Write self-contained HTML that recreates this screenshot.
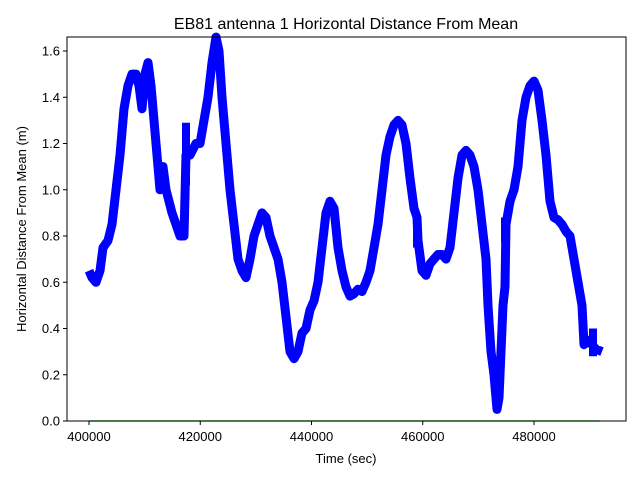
<!DOCTYPE html>
<html><head><meta charset="utf-8"><style>
body{margin:0;background:#fff;}
svg{display:block;font-family:"Liberation Sans","DejaVu Sans",sans-serif;}
</style></head><body>
<svg id="s" width="640" height="480" xmlns="http://www.w3.org/2000/svg">
<rect width="640" height="480" fill="#fff"/>
<text x="346" y="29" font-size="16" text-anchor="middle">EB81 antenna 1 Horizontal Distance From Mean</text>
<g id="data"></g>
<line x1="89" y1="421" x2="600" y2="421" stroke="#44dd44" stroke-width="1.5"/>
<rect x="67" y="37" width="559" height="384" fill="none" stroke="#000" stroke-width="1"/>
<g id="ticks" font-size="13"></g>
<text x="346" y="463" font-size="13" text-anchor="middle">Time (sec)</text>
<text transform="translate(26,229) rotate(-90)" font-size="13" text-anchor="middle">Horizontal Distance From Mean (m)</text>
</svg>
<script>
var d=[[89,.65],[92,.62],[96,.6],[100,.65],[103,.75],[108,.78],[112,.85],[116,1.0],[120,1.15],[124,1.35],[128,1.45],[132,1.5],[136,1.5],[139,1.45],[142,1.35],[145,1.5],[148,1.55],[151,1.45],[154,1.3],[157,1.15],[160,1.0],[163,1.1],[166,1.0],[169,.95],[172,.9],[176,.85],[180,.8],[184,.8],[186,1.15],[190,1.15],[196,1.2],[200,1.2],[204,1.3],[208,1.4],[212,1.55],[216,1.66],[219,1.6],[222,1.4],[226,1.2],[230,1.0],[234,.85],[238,.7],[242,.65],[246,.62],[250,.7],[254,.8],[258,.85],[262,.9],[266,.88],[270,.8],[274,.75],[278,.7],[282,.6],[286,.45],[290,.3],[294,.27],[298,.3],[302,.38],[306,.4],[310,.48],[314,.52],[318,.6],[322,.75],[326,.9],[330,.95],[334,.92],[338,.75],[342,.65],[346,.58],[350,.54],[354,.55],[358,.57],[362,.56],[366,.6],[370,.65],[374,.75],[378,.85],[382,1.0],[386,1.15],[390,1.23],[394,1.28],[398,1.3],[402,1.28],[406,1.2],[410,1.05],[414,.92],[417,.88],[418,.78],[422,.65],[426,.63],[430,.68],[434,.7],[438,.72],[442,.72],[446,.7],[450,.75],[454,.9],[458,1.05],[462,1.15],[466,1.17],[470,1.15],[474,1.1],[478,1.0],[482,.85],[486,.7],[488,.5],[491,.3],[494,.2],[497,.05],[499,.1],[501,.3],[503,.5],[505,.58],[506,.85],[510,.95],[514,1.0],[518,1.1],[522,1.3],[526,1.4],[530,1.45],[534,1.47],[538,1.43],[542,1.3],[546,1.15],[550,.95],[554,.88],[558,.87],[562,.85],[566,.82],[570,.8],[574,.7],[578,.6],[582,.5],[584,.33],[588,.35],[592,.33],[596,.31],[602,.3]];
function Y(v){return 421-v*231.25;}
var ns="http://www.w3.org/2000/svg",g=document.getElementById('data');
var p=d.map(function(a){return a[0]+','+Y(a[1]).toFixed(1)}).join(' ');
var pl=document.createElementNS(ns,'polyline');
pl.setAttribute('points',p);pl.setAttribute('fill','none');pl.setAttribute('stroke','#0000ff');pl.setAttribute('stroke-width','9');pl.setAttribute('stroke-linejoin','round');
g.appendChild(pl);
[[186,1.02,1.29],[417,.75,.83],[505,.77,.88],[593,.28,.4]].forEach(function(s){
 var l=document.createElementNS(ns,'line');l.setAttribute('x1',s[0]);l.setAttribute('x2',s[0]);
 l.setAttribute('y1',Y(s[1]));l.setAttribute('y2',Y(s[2]));l.setAttribute('stroke','#0000ff');l.setAttribute('stroke-width','8');g.appendChild(l);});
var t=document.getElementById('ticks'),h='';
for(var i=0;i<=8;i++){var v=i*0.2,y=Y(v);h+='<line x1="63" x2="67" y1="'+y+'" y2="'+y+'" stroke="#000"/><text x="60" y="'+(y+4.5)+'" text-anchor="end">'+v.toFixed(1)+'</text>';}
for(var i=0;i<=4;i++){var x=89+i*111.25;h+='<line x1="'+x+'" x2="'+x+'" y1="421" y2="425" stroke="#000"/><text x="'+x+'" y="441" text-anchor="middle">'+(400000+i*20000)+'</text>';}
t.innerHTML=h;
</script>
</body></html>
